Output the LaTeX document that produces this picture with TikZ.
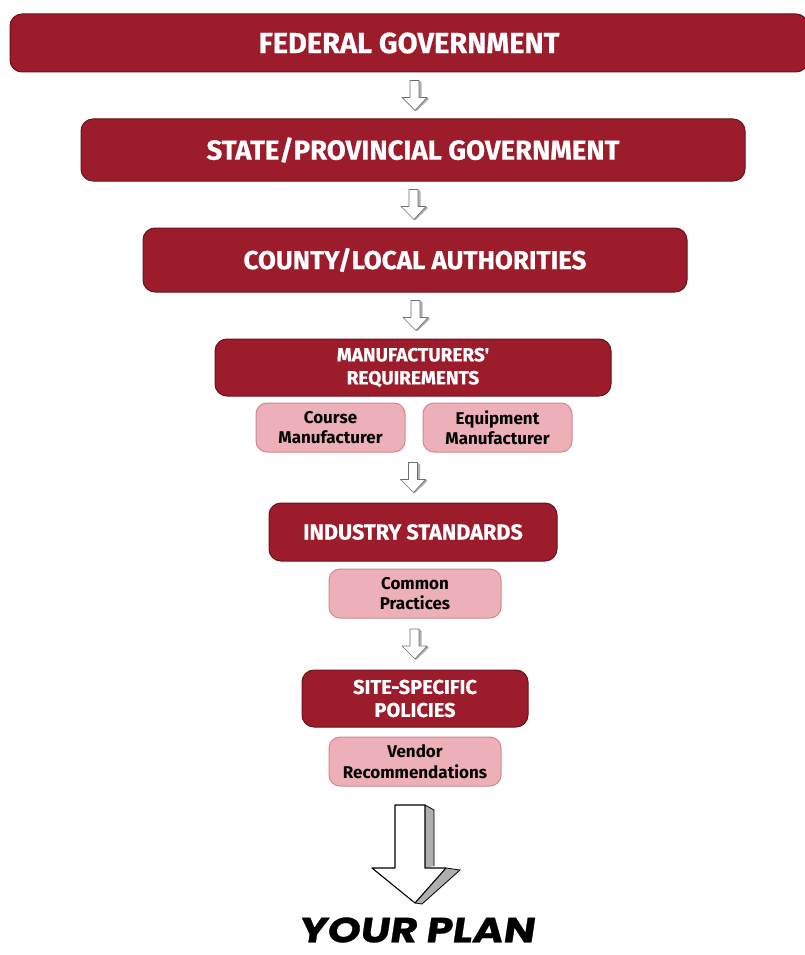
\documentclass[tikz,border=0pt]{standalone}
\usepackage{fontspec}
\usetikzlibrary{calc,patterns}
\setmainfont{Fira Sans}
\newfontfamily\boxfont{Fira Sans}[BoldFeatures={FakeBold=0.5}]
\newfontfamily\pinkfont{Fira Sans}
\newfontfamily\planfont{Poppins}[FakeSlant=0.15, FakeStretch=1.2, BoldFeatures={FakeBold=0.8}]
\definecolor{redfill}{RGB}{157,28,43}
\definecolor{redline}{RGB}{105,18,28}
\definecolor{pinkfill}{RGB}{238,176,184}
\definecolor{pinkline}{RGB}{208,135,146}
\definecolor{arrline}{RGB}{110,110,110}
\definecolor{arrshade}{RGB}{175,175,175}
\tikzset{
  redbox/.style={draw=redline, line width=1pt, fill=redfill, rounded corners=12pt,
    text=white, align=center, inner sep=0pt},
  pinkbox/.style={draw=pinkline, line width=1pt, fill=pinkfill, rounded corners=11pt,
    text=black, align=center, inner sep=0pt, minimum height=49pt,
    font=\pinkfont\bfseries\fontsize{17}{20.5}\selectfont},
  sarrow/.pic={
    \fill[arrshade] (4,-15) -- (6.5,-13) -- (6.5,1) -- (4,2) -- cycle;
    \fill[arrshade] (12,2) -- (14,3.5) -- (1.5,15.5) -- (0,15) -- cycle;
    \draw[arrline, fill=white, line width=0.7pt, line join=round]
      (-5,-15) -- (4,-15) -- (4,2) -- (12,2) -- (0,15) -- (-13,2) -- (-5,2) -- cycle;
  }
}
\begin{document}
\begin{tikzpicture}[x=1pt,y=-1pt]
\useasboundingbox (0,0) rectangle (804,955);
\fill[white] (0,0) rectangle (804,955);

\node[redbox, font=\boxfont\bfseries\fontsize{29}{32}\selectfont, minimum width=798pt, minimum height=58pt] (fed) at (409,43) {FEDERAL GOVERNMENT};
\node[redbox, font=\boxfont\bfseries\fontsize{27.5}{30}\selectfont, minimum width=664pt, minimum height=62pt] (state) at (413,150) {STATE/PROVINCIAL GOVERNMENT};
\node[redbox, font=\boxfont\bfseries\fontsize{26}{30}\selectfont, minimum width=544pt, minimum height=64pt] (county) at (415,260) {COUNTY/LOCAL AUTHORITIES};
\node[redbox, font=\boxfont\bfseries\fontsize{19}{23}\selectfont, minimum width=396pt, minimum height=57pt] (manu) at (413,367.5) {MANUFACTURERS'\\REQUIREMENTS};
\node[pinkbox, minimum width=149pt] (course) at (330.5,427.5) {Course\\Manufacturer};
\node[pinkbox, minimum width=149pt] (equip) at (497.5,427.5) {Equipment\\Manufacturer};
\node[redbox, font=\boxfont\bfseries\fontsize{21.7}{24}\selectfont, minimum width=288pt, minimum height=58pt] (ind) at (413,532) {INDUSTRY STANDARDS};
\node[pinkbox, minimum width=172pt] (common) at (415,593.5) {Common\\Practices};
\node[redbox, font=\boxfont\bfseries\fontsize{20}{23}\selectfont, minimum width=226pt, minimum height=57pt] (site) at (415,698.5) {SITE-SPECIFIC\\POLICIES};
\node[pinkbox, minimum width=172pt] (vendor) at (415,761.5) {Vendor\\Recommendations};

\pic at ($(fed.south)!0.5!(state.north)+(4,0)$) {sarrow};
\pic at ($(state.south)!0.5!(county.north)$) {sarrow};
\pic at ($(county.south)!0.5!(manu.north)+(2,0)$) {sarrow};
\coordinate (pinkmid) at ($(course.south)!0.5!(equip.south)$);
\pic at ($(pinkmid)!0.5!(ind.north)$) {sarrow};
\pic at ($(common.south)!0.5!(site.north)$) {sarrow};

% big arrow
\fill[arrshade] (425,805) -- (434,810) -- (434,866) -- (425,868) -- cycle;
\fill[arrshade] (446,868) -- (460,870) -- (422,904) -- (415,903) -- cycle;
\draw[black, fill=white, line width=1.1pt, line join=round]
  (395,805) -- (425,805) -- (425,868) -- (446,868) -- (415,903) -- (372,868) -- (395,868) -- cycle;
\draw[black, line width=0.8pt] (425,805) -- (434,810) -- (434,866) (446,868) -- (460,870) -- (422,904) -- (415,903);

\node[font=\planfont\bfseries\fontsize{35}{35}\selectfont, inner sep=0pt] (plan) at (416,930) {YOUR PLAN};
\end{tikzpicture}
\end{document}
